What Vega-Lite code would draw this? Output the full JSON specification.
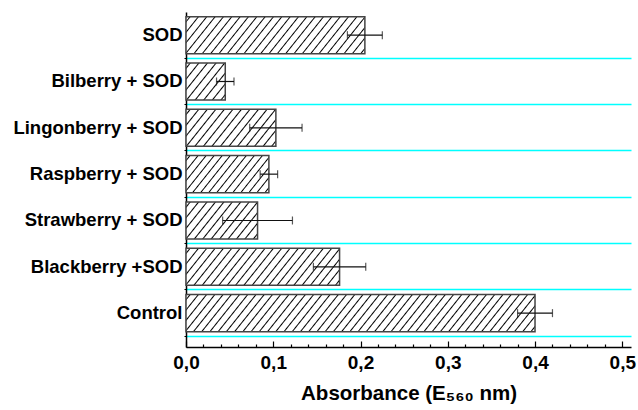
{
  "$schema": "https://vega.github.io/schema/vega-lite/v6.json",
  "width": 445,
  "height": 335,
  "autosize": {"type": "none"},
  "padding": {"left": 186, "top": 12, "right": 7, "bottom": 63},
  "config": {"view": {"stroke": null}, "font": "Liberation Sans"},
  "data": {"values": [
    {"cat": "SOD", "value": 0.205, "err": 0.02},
    {"cat": "Bilberry + SOD", "value": 0.045, "err": 0.01},
    {"cat": "Lingonberry + SOD", "value": 0.103, "err": 0.03},
    {"cat": "Raspberry + SOD", "value": 0.095, "err": 0.01},
    {"cat": "Strawberry + SOD", "value": 0.082, "err": 0.04},
    {"cat": "Blackberry +SOD", "value": 0.176, "err": 0.03},
    {"cat": "Control", "value": 0.4, "err": 0.02}
  ]},
  "encoding": {
    "y": {"field": "cat", "type": "nominal", "sort": null,
      "scale": {"paddingInner": 0, "paddingOuter": 0.1154, "align": 0},
      "axis": {"title": null, "labelFont": "Liberation Sans", "labelFontSize": 18.5, "labelFontWeight": "bold", "labelColor": "#000", "labelPadding": 2, "labelLimit": 400, "tickSize": 2, "tickColor": "#000", "bandPosition": 1, "tickExtra": false, "grid": true, "gridColor": "#00ffff", "gridWidth": 1.6, "domainColor": "#000", "domainWidth": 1.5}},
    "x": {"field": "value", "type": "quantitative",
      "scale": {"domain": [0, 0.51], "nice": false, "zero": true},
      "axis": {"title": "Absorbance (E₅₆₀ nm)", "grid": false,
        "values": [0, 0.02, 0.04, 0.06, 0.08, 0.1, 0.12, 0.14, 0.16, 0.18, 0.2, 0.22, 0.24, 0.26, 0.28, 0.3, 0.32, 0.34, 0.36, 0.38, 0.4, 0.42, 0.44, 0.46, 0.48, 0.5],
        "labelExpr": "abs(datum.value*10 - round(datum.value*10)) < 0.001 ? replace(format(datum.value, '.1f'), '.', ',') : ''",
        "tickSize": {"condition": {"test": "abs(datum.value*10 - round(datum.value*10)) < 0.001", "value": -6}, "value": -3},
        "tickColor": "#000", "tickWidth": 1.2, "domainColor": "#000", "domainWidth": 1.5,
        "labelFont": "Liberation Sans", "labelFontSize": 19, "labelFontWeight": "bold", "labelColor": "#000", "labelPadding": 12, "labelFlush": false, "labelOverlap": false,
        "titleFont": "Liberation Sans", "titleFontSize": 20.5, "titleFontWeight": "bold", "titleColor": "#000", "titlePadding": 8}}
  },
  "layer": [
    {
      "mark": {"type": "bar", "height": {"band": 0.8}, "stroke": "#444", "strokeWidth": 1.5},
      "encoding": {
        "fill": {"condition": [
          {"test": "datum.cat === 'SOD'", "value": {"gradient": "linear", "x1": 0, "y1": 0, "x2": 1.1344, "y2": 0.1877, "stops": [
            {"offset":0.014,"color":"#fff"},{"offset":0.02,"color":"#000"},{"offset":0.026,"color":"#fff"},
            {"offset":0.054,"color":"#fff"},{"offset":0.06,"color":"#000"},{"offset":0.066,"color":"#fff"},
            {"offset":0.094,"color":"#fff"},{"offset":0.10,"color":"#000"},{"offset":0.106,"color":"#fff"},
            {"offset":0.134,"color":"#fff"},{"offset":0.14,"color":"#000"},{"offset":0.146,"color":"#fff"},
            {"offset":0.174,"color":"#fff"},{"offset":0.18,"color":"#000"},{"offset":0.186,"color":"#fff"},
            {"offset":0.214,"color":"#fff"},{"offset":0.22,"color":"#000"},{"offset":0.226,"color":"#fff"},
            {"offset":0.254,"color":"#fff"},{"offset":0.26,"color":"#000"},{"offset":0.266,"color":"#fff"},
            {"offset":0.294,"color":"#fff"},{"offset":0.30,"color":"#000"},{"offset":0.306,"color":"#fff"},
            {"offset":0.334,"color":"#fff"},{"offset":0.34,"color":"#000"},{"offset":0.346,"color":"#fff"},
            {"offset":0.374,"color":"#fff"},{"offset":0.38,"color":"#000"},{"offset":0.386,"color":"#fff"},
            {"offset":0.414,"color":"#fff"},{"offset":0.42,"color":"#000"},{"offset":0.426,"color":"#fff"},
            {"offset":0.454,"color":"#fff"},{"offset":0.46,"color":"#000"},{"offset":0.466,"color":"#fff"},
            {"offset":0.494,"color":"#fff"},{"offset":0.50,"color":"#000"},{"offset":0.506,"color":"#fff"},
            {"offset":0.534,"color":"#fff"},{"offset":0.54,"color":"#000"},{"offset":0.546,"color":"#fff"},
            {"offset":0.574,"color":"#fff"},{"offset":0.58,"color":"#000"},{"offset":0.586,"color":"#fff"},
            {"offset":0.614,"color":"#fff"},{"offset":0.62,"color":"#000"},{"offset":0.626,"color":"#fff"},
            {"offset":0.654,"color":"#fff"},{"offset":0.66,"color":"#000"},{"offset":0.666,"color":"#fff"},
            {"offset":0.694,"color":"#fff"},{"offset":0.70,"color":"#000"},{"offset":0.706,"color":"#fff"},
            {"offset":0.734,"color":"#fff"},{"offset":0.74,"color":"#000"},{"offset":0.746,"color":"#fff"},
            {"offset":0.774,"color":"#fff"},{"offset":0.78,"color":"#000"},{"offset":0.786,"color":"#fff"},
            {"offset":0.814,"color":"#fff"},{"offset":0.82,"color":"#000"},{"offset":0.826,"color":"#fff"},
            {"offset":0.854,"color":"#fff"},{"offset":0.86,"color":"#000"},{"offset":0.866,"color":"#fff"},
            {"offset":0.894,"color":"#fff"},{"offset":0.90,"color":"#000"},{"offset":0.906,"color":"#fff"},
            {"offset":0.934,"color":"#fff"},{"offset":0.94,"color":"#000"},{"offset":0.946,"color":"#fff"},
            {"offset":0.974,"color":"#fff"},{"offset":0.98,"color":"#000"},{"offset":0.986,"color":"#fff"}
          ]}},
          {"test": "datum.cat === 'Bilberry + SOD'", "value": {"gradient": "linear", "x1": 0, "y1": 0, "x2": 1.1186, "y2": 0.8425, "stops": [
            {"offset":0.0435,"color":"#fff"},{"offset":0.0625,"color":"#000"},{"offset":0.0815,"color":"#fff"},
            {"offset":0.1685,"color":"#fff"},{"offset":0.1875,"color":"#000"},{"offset":0.2065,"color":"#fff"},
            {"offset":0.2935,"color":"#fff"},{"offset":0.3125,"color":"#000"},{"offset":0.3315,"color":"#fff"},
            {"offset":0.4185,"color":"#fff"},{"offset":0.4375,"color":"#000"},{"offset":0.4565,"color":"#fff"},
            {"offset":0.5435,"color":"#fff"},{"offset":0.5625,"color":"#000"},{"offset":0.5815,"color":"#fff"},
            {"offset":0.6685,"color":"#fff"},{"offset":0.6875,"color":"#000"},{"offset":0.7065,"color":"#fff"},
            {"offset":0.7935,"color":"#fff"},{"offset":0.8125,"color":"#000"},{"offset":0.8315,"color":"#fff"},
            {"offset":0.9185,"color":"#fff"},{"offset":0.9375,"color":"#000"},{"offset":0.9565,"color":"#fff"}
          ]}},
          {"test": "datum.cat === 'Lingonberry + SOD'", "value": {"gradient": "linear", "x1": 0, "y1": 0, "x2": 1.1993, "y2": 0.3949, "stops": [
            {"offset":0.0247,"color":"#fff"},{"offset":0.0357,"color":"#000"},{"offset":0.0467,"color":"#fff"},
            {"offset":0.0961,"color":"#fff"},{"offset":0.1071,"color":"#000"},{"offset":0.1181,"color":"#fff"},
            {"offset":0.1676,"color":"#fff"},{"offset":0.1786,"color":"#000"},{"offset":0.1896,"color":"#fff"},
            {"offset":0.2390,"color":"#fff"},{"offset":0.2500,"color":"#000"},{"offset":0.2610,"color":"#fff"},
            {"offset":0.3104,"color":"#fff"},{"offset":0.3214,"color":"#000"},{"offset":0.3324,"color":"#fff"},
            {"offset":0.3819,"color":"#fff"},{"offset":0.3929,"color":"#000"},{"offset":0.4039,"color":"#fff"},
            {"offset":0.4533,"color":"#fff"},{"offset":0.4643,"color":"#000"},{"offset":0.4753,"color":"#fff"},
            {"offset":0.5247,"color":"#fff"},{"offset":0.5357,"color":"#000"},{"offset":0.5467,"color":"#fff"},
            {"offset":0.5961,"color":"#fff"},{"offset":0.6071,"color":"#000"},{"offset":0.6181,"color":"#fff"},
            {"offset":0.6676,"color":"#fff"},{"offset":0.6786,"color":"#000"},{"offset":0.6896,"color":"#fff"},
            {"offset":0.7390,"color":"#fff"},{"offset":0.7500,"color":"#000"},{"offset":0.7610,"color":"#fff"},
            {"offset":0.8104,"color":"#fff"},{"offset":0.8214,"color":"#000"},{"offset":0.8324,"color":"#fff"},
            {"offset":0.8819,"color":"#fff"},{"offset":0.8929,"color":"#000"},{"offset":0.9039,"color":"#fff"},
            {"offset":0.9533,"color":"#fff"},{"offset":0.9643,"color":"#000"},{"offset":0.9753,"color":"#fff"}
          ]}},
          {"test": "datum.cat === 'Raspberry + SOD'", "value": {"gradient": "linear", "x1": 0, "y1": 0, "x2": 1.2036, "y2": 0.4298, "stops": [
            {"offset":0.0247,"color":"#fff"},{"offset":0.0357,"color":"#000"},{"offset":0.0467,"color":"#fff"},
            {"offset":0.0961,"color":"#fff"},{"offset":0.1071,"color":"#000"},{"offset":0.1181,"color":"#fff"},
            {"offset":0.1676,"color":"#fff"},{"offset":0.1786,"color":"#000"},{"offset":0.1896,"color":"#fff"},
            {"offset":0.2390,"color":"#fff"},{"offset":0.2500,"color":"#000"},{"offset":0.2610,"color":"#fff"},
            {"offset":0.3104,"color":"#fff"},{"offset":0.3214,"color":"#000"},{"offset":0.3324,"color":"#fff"},
            {"offset":0.3819,"color":"#fff"},{"offset":0.3929,"color":"#000"},{"offset":0.4039,"color":"#fff"},
            {"offset":0.4533,"color":"#fff"},{"offset":0.4643,"color":"#000"},{"offset":0.4753,"color":"#fff"},
            {"offset":0.5247,"color":"#fff"},{"offset":0.5357,"color":"#000"},{"offset":0.5467,"color":"#fff"},
            {"offset":0.5961,"color":"#fff"},{"offset":0.6071,"color":"#000"},{"offset":0.6181,"color":"#fff"},
            {"offset":0.6676,"color":"#fff"},{"offset":0.6786,"color":"#000"},{"offset":0.6896,"color":"#fff"},
            {"offset":0.7390,"color":"#fff"},{"offset":0.7500,"color":"#000"},{"offset":0.7610,"color":"#fff"},
            {"offset":0.8104,"color":"#fff"},{"offset":0.8214,"color":"#000"},{"offset":0.8324,"color":"#fff"},
            {"offset":0.8819,"color":"#fff"},{"offset":0.8929,"color":"#000"},{"offset":0.9039,"color":"#fff"},
            {"offset":0.9533,"color":"#fff"},{"offset":0.9643,"color":"#000"},{"offset":0.9753,"color":"#fff"}
          ]}},
          {"test": "datum.cat === 'Strawberry + SOD'", "value": {"gradient": "linear", "x1": 0, "y1": 0, "x2": 1.2071, "y2": 0.4997, "stops": [
            {"offset":0.0287,"color":"#fff"},{"offset":0.0417,"color":"#000"},{"offset":0.0547,"color":"#fff"},
            {"offset":0.1120,"color":"#fff"},{"offset":0.1250,"color":"#000"},{"offset":0.1380,"color":"#fff"},
            {"offset":0.1953,"color":"#fff"},{"offset":0.2083,"color":"#000"},{"offset":0.2213,"color":"#fff"},
            {"offset":0.2787,"color":"#fff"},{"offset":0.2917,"color":"#000"},{"offset":0.3047,"color":"#fff"},
            {"offset":0.3620,"color":"#fff"},{"offset":0.3750,"color":"#000"},{"offset":0.3880,"color":"#fff"},
            {"offset":0.4453,"color":"#fff"},{"offset":0.4583,"color":"#000"},{"offset":0.4713,"color":"#fff"},
            {"offset":0.5287,"color":"#fff"},{"offset":0.5417,"color":"#000"},{"offset":0.5547,"color":"#fff"},
            {"offset":0.6120,"color":"#fff"},{"offset":0.6250,"color":"#000"},{"offset":0.6380,"color":"#fff"},
            {"offset":0.6953,"color":"#fff"},{"offset":0.7083,"color":"#000"},{"offset":0.7213,"color":"#fff"},
            {"offset":0.7787,"color":"#fff"},{"offset":0.7917,"color":"#000"},{"offset":0.8047,"color":"#fff"},
            {"offset":0.8620,"color":"#fff"},{"offset":0.8750,"color":"#000"},{"offset":0.8880,"color":"#fff"},
            {"offset":0.9453,"color":"#fff"},{"offset":0.9583,"color":"#000"},{"offset":0.9713,"color":"#fff"}
          ]}},
          {"test": "datum.cat === 'Blackberry +SOD'", "value": {"gradient": "linear", "x1": 0, "y1": 0, "x2": 1.15, "y2": 0.2216, "stops": [
            {"offset":0.0157,"color":"#fff"},{"offset":0.0227,"color":"#000"},{"offset":0.0297,"color":"#fff"},
            {"offset":0.0612,"color":"#fff"},{"offset":0.0682,"color":"#000"},{"offset":0.0752,"color":"#fff"},
            {"offset":0.1066,"color":"#fff"},{"offset":0.1136,"color":"#000"},{"offset":0.1206,"color":"#fff"},
            {"offset":0.1521,"color":"#fff"},{"offset":0.1591,"color":"#000"},{"offset":0.1661,"color":"#fff"},
            {"offset":0.1975,"color":"#fff"},{"offset":0.2045,"color":"#000"},{"offset":0.2115,"color":"#fff"},
            {"offset":0.2430,"color":"#fff"},{"offset":0.2500,"color":"#000"},{"offset":0.2570,"color":"#fff"},
            {"offset":0.2885,"color":"#fff"},{"offset":0.2955,"color":"#000"},{"offset":0.3025,"color":"#fff"},
            {"offset":0.3339,"color":"#fff"},{"offset":0.3409,"color":"#000"},{"offset":0.3479,"color":"#fff"},
            {"offset":0.3794,"color":"#fff"},{"offset":0.3864,"color":"#000"},{"offset":0.3934,"color":"#fff"},
            {"offset":0.4248,"color":"#fff"},{"offset":0.4318,"color":"#000"},{"offset":0.4388,"color":"#fff"},
            {"offset":0.4703,"color":"#fff"},{"offset":0.4773,"color":"#000"},{"offset":0.4843,"color":"#fff"},
            {"offset":0.5157,"color":"#fff"},{"offset":0.5227,"color":"#000"},{"offset":0.5297,"color":"#fff"},
            {"offset":0.5612,"color":"#fff"},{"offset":0.5682,"color":"#000"},{"offset":0.5752,"color":"#fff"},
            {"offset":0.6066,"color":"#fff"},{"offset":0.6136,"color":"#000"},{"offset":0.6206,"color":"#fff"},
            {"offset":0.6521,"color":"#fff"},{"offset":0.6591,"color":"#000"},{"offset":0.6661,"color":"#fff"},
            {"offset":0.6975,"color":"#fff"},{"offset":0.7045,"color":"#000"},{"offset":0.7115,"color":"#fff"},
            {"offset":0.7430,"color":"#fff"},{"offset":0.7500,"color":"#000"},{"offset":0.7570,"color":"#fff"},
            {"offset":0.7885,"color":"#fff"},{"offset":0.7955,"color":"#000"},{"offset":0.8025,"color":"#fff"},
            {"offset":0.8339,"color":"#fff"},{"offset":0.8409,"color":"#000"},{"offset":0.8479,"color":"#fff"},
            {"offset":0.8794,"color":"#fff"},{"offset":0.8864,"color":"#000"},{"offset":0.8934,"color":"#fff"},
            {"offset":0.9248,"color":"#fff"},{"offset":0.9318,"color":"#000"},{"offset":0.9388,"color":"#fff"},
            {"offset":0.9703,"color":"#fff"},{"offset":0.9773,"color":"#000"},{"offset":0.9843,"color":"#fff"}
          ]}},
          {"test": "datum.cat === 'Control'", "value": {"gradient": "linear", "x1": 0, "y1": 0, "x2": 1.0771, "y2": 0.09135, "stops": [
            {"offset":0.0075,"color":"#fff"},{"offset":0.0109,"color":"#000"},{"offset":0.0143,"color":"#fff"},
            {"offset":0.0292,"color":"#fff"},{"offset":0.0326,"color":"#000"},{"offset":0.0360,"color":"#fff"},
            {"offset":0.0509,"color":"#fff"},{"offset":0.0543,"color":"#000"},{"offset":0.0577,"color":"#fff"},
            {"offset":0.0727,"color":"#fff"},{"offset":0.0761,"color":"#000"},{"offset":0.0795,"color":"#fff"},
            {"offset":0.0944,"color":"#fff"},{"offset":0.0978,"color":"#000"},{"offset":0.1012,"color":"#fff"},
            {"offset":0.1162,"color":"#fff"},{"offset":0.1196,"color":"#000"},{"offset":0.1230,"color":"#fff"},
            {"offset":0.1379,"color":"#fff"},{"offset":0.1413,"color":"#000"},{"offset":0.1447,"color":"#fff"},
            {"offset":0.1596,"color":"#fff"},{"offset":0.1630,"color":"#000"},{"offset":0.1664,"color":"#fff"},
            {"offset":0.1814,"color":"#fff"},{"offset":0.1848,"color":"#000"},{"offset":0.1882,"color":"#fff"},
            {"offset":0.2031,"color":"#fff"},{"offset":0.2065,"color":"#000"},{"offset":0.2099,"color":"#fff"},
            {"offset":0.2249,"color":"#fff"},{"offset":0.2283,"color":"#000"},{"offset":0.2317,"color":"#fff"},
            {"offset":0.2466,"color":"#fff"},{"offset":0.2500,"color":"#000"},{"offset":0.2534,"color":"#fff"},
            {"offset":0.2683,"color":"#fff"},{"offset":0.2717,"color":"#000"},{"offset":0.2751,"color":"#fff"},
            {"offset":0.2901,"color":"#fff"},{"offset":0.2935,"color":"#000"},{"offset":0.2969,"color":"#fff"},
            {"offset":0.3118,"color":"#fff"},{"offset":0.3152,"color":"#000"},{"offset":0.3186,"color":"#fff"},
            {"offset":0.3336,"color":"#fff"},{"offset":0.3370,"color":"#000"},{"offset":0.3404,"color":"#fff"},
            {"offset":0.3553,"color":"#fff"},{"offset":0.3587,"color":"#000"},{"offset":0.3621,"color":"#fff"},
            {"offset":0.3770,"color":"#fff"},{"offset":0.3804,"color":"#000"},{"offset":0.3838,"color":"#fff"},
            {"offset":0.3988,"color":"#fff"},{"offset":0.4022,"color":"#000"},{"offset":0.4056,"color":"#fff"},
            {"offset":0.4205,"color":"#fff"},{"offset":0.4239,"color":"#000"},{"offset":0.4273,"color":"#fff"},
            {"offset":0.4423,"color":"#fff"},{"offset":0.4457,"color":"#000"},{"offset":0.4491,"color":"#fff"},
            {"offset":0.4640,"color":"#fff"},{"offset":0.4674,"color":"#000"},{"offset":0.4708,"color":"#fff"},
            {"offset":0.4857,"color":"#fff"},{"offset":0.4891,"color":"#000"},{"offset":0.4925,"color":"#fff"},
            {"offset":0.5075,"color":"#fff"},{"offset":0.5109,"color":"#000"},{"offset":0.5143,"color":"#fff"},
            {"offset":0.5292,"color":"#fff"},{"offset":0.5326,"color":"#000"},{"offset":0.5360,"color":"#fff"},
            {"offset":0.5509,"color":"#fff"},{"offset":0.5543,"color":"#000"},{"offset":0.5577,"color":"#fff"},
            {"offset":0.5727,"color":"#fff"},{"offset":0.5761,"color":"#000"},{"offset":0.5795,"color":"#fff"},
            {"offset":0.5944,"color":"#fff"},{"offset":0.5978,"color":"#000"},{"offset":0.6012,"color":"#fff"},
            {"offset":0.6162,"color":"#fff"},{"offset":0.6196,"color":"#000"},{"offset":0.6230,"color":"#fff"},
            {"offset":0.6379,"color":"#fff"},{"offset":0.6413,"color":"#000"},{"offset":0.6447,"color":"#fff"},
            {"offset":0.6596,"color":"#fff"},{"offset":0.6630,"color":"#000"},{"offset":0.6664,"color":"#fff"},
            {"offset":0.6814,"color":"#fff"},{"offset":0.6848,"color":"#000"},{"offset":0.6882,"color":"#fff"},
            {"offset":0.7031,"color":"#fff"},{"offset":0.7065,"color":"#000"},{"offset":0.7099,"color":"#fff"},
            {"offset":0.7249,"color":"#fff"},{"offset":0.7283,"color":"#000"},{"offset":0.7317,"color":"#fff"},
            {"offset":0.7466,"color":"#fff"},{"offset":0.7500,"color":"#000"},{"offset":0.7534,"color":"#fff"},
            {"offset":0.7683,"color":"#fff"},{"offset":0.7717,"color":"#000"},{"offset":0.7751,"color":"#fff"},
            {"offset":0.7901,"color":"#fff"},{"offset":0.7935,"color":"#000"},{"offset":0.7969,"color":"#fff"},
            {"offset":0.8118,"color":"#fff"},{"offset":0.8152,"color":"#000"},{"offset":0.8186,"color":"#fff"},
            {"offset":0.8336,"color":"#fff"},{"offset":0.8370,"color":"#000"},{"offset":0.8404,"color":"#fff"},
            {"offset":0.8553,"color":"#fff"},{"offset":0.8587,"color":"#000"},{"offset":0.8621,"color":"#fff"},
            {"offset":0.8770,"color":"#fff"},{"offset":0.8804,"color":"#000"},{"offset":0.8838,"color":"#fff"},
            {"offset":0.8988,"color":"#fff"},{"offset":0.9022,"color":"#000"},{"offset":0.9056,"color":"#fff"},
            {"offset":0.9205,"color":"#fff"},{"offset":0.9239,"color":"#000"},{"offset":0.9273,"color":"#fff"},
            {"offset":0.9423,"color":"#fff"},{"offset":0.9457,"color":"#000"},{"offset":0.9491,"color":"#fff"},
            {"offset":0.9640,"color":"#fff"},{"offset":0.9674,"color":"#000"},{"offset":0.9708,"color":"#fff"},
            {"offset":0.9857,"color":"#fff"},{"offset":0.9891,"color":"#000"},{"offset":0.9925,"color":"#fff"}
          ]}}
        ], "value": "#ffffff"}
      }
    },
    {
      "mark": {"type": "errorbar", "ticks": {"size": 8, "thickness": 1.2, "color": "#111"}, "rule": {"strokeWidth": 1.2, "color": "#111"}},
      "encoding": {"xError": {"field": "err"}}
    }
  ]
}
